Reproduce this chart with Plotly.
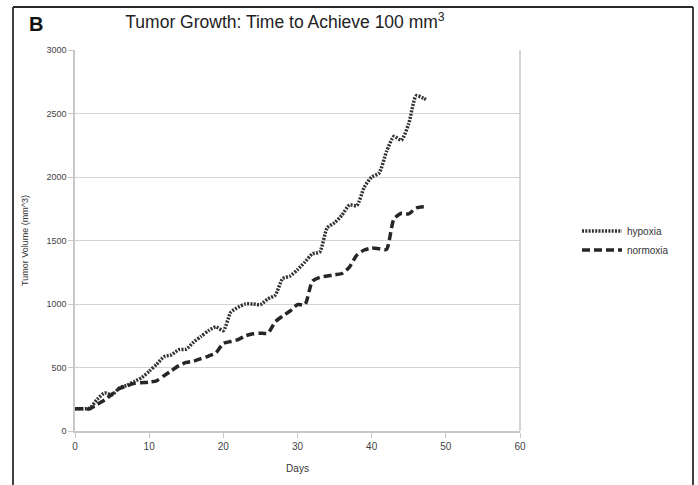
import plotly.graph_objects as go

days = [0, 1, 2, 3, 4, 5, 6, 7, 8, 9, 10, 11, 12, 13, 14, 15, 16, 17, 18, 19, 20,
        21, 22, 23, 24, 25, 26, 27, 28, 29, 30, 31, 32, 33, 34, 35, 36, 37, 38, 39,
        40, 41, 42, 43, 44, 45, 46, 47, 47.5]
hypoxia = [175, 175, 180, 250, 300, 285, 340, 360, 390, 420, 470, 525, 585, 600, 640,
           645, 700, 745, 790, 820, 790, 935, 975, 1000, 1000, 995, 1040, 1070, 1200,
           1220, 1270, 1330, 1395, 1410, 1600, 1640, 1700, 1780, 1775, 1920, 2000, 2030,
           2200, 2320, 2290, 2420, 2640, 2620, 2605]
normoxia = [175, 175, 175, 210, 245, 290, 335, 355, 375, 380, 385, 395, 435, 475, 515,
            540, 550, 570, 590, 615, 690, 705, 720, 750, 765, 770, 770, 860, 905, 945,
            995, 995, 1180, 1210, 1220, 1230, 1240, 1290, 1385, 1425, 1440, 1435, 1430,
            1670, 1715, 1710, 1755, 1765, 1766]
x_ticks = [0, 10, 20, 30, 40, 50, 60]
y_ticks = [0, 500, 1000, 1500, 2000, 2500, 3000]

FONT = "Liberation Sans, Arial, sans-serif"

fig = go.Figure()
fig.add_trace(go.Scatter(x=days, y=hypoxia, name="hypoxia", mode="lines",
                         line=dict(color="#333333", width=3.5, dash="2px,1.3px",
                                   shape="spline", smoothing=0.6)))
fig.add_trace(go.Scatter(x=days, y=normoxia, name="normoxia", mode="lines",
                         line=dict(color="#262626", width=3.5, dash="8px,4px",
                                   shape="spline", smoothing=0.6)))

W, H = 698, 485
L, R, T, B = 75, 520, 50, 440


def px(x):
    return (x - L) / (R - L)


def py(y):
    return (B - y) / (B - T)


fig.update_layout(
    width=W, height=H,
    margin=dict(l=L, r=W - R, t=T, b=H - B),
    paper_bgcolor="white", plot_bgcolor="white",
    font=dict(family=FONT, color="#444"),
    title=dict(text="Tumor Growth: Time to Achieve 100 mm<sup>3</sup>",
               xref="paper", x=px(285), xanchor="center",
               yref="container", y=1 - 22 / H, yanchor="middle",
               font=dict(size=17.5, color="#222", family=FONT)),
    xaxis=dict(range=[0, 60], tickvals=x_ticks, showgrid=False, zeroline=False,
               showline=True, linecolor="#c8c8c8", linewidth=1.5,
               ticks="outside", ticklen=5, tickcolor="#c8c8c8",
               tickfont=dict(size=10, color="#444"),
               title=dict(text="Days", font=dict(size=10, color="#333"), standoff=14)),
    yaxis=dict(range=[0, 3000], tickvals=y_ticks, showgrid=True, gridcolor="#d4d4d4",
               gridwidth=1.3, zeroline=False,
               showline=True, linecolor="#c8c8c8", linewidth=1.5,
               ticks="outside", ticklen=5, tickcolor="#c8c8c8",
               tickfont=dict(size=9, color="#444"),
               title=dict(text="Tumor Volume (mm^3)", font=dict(size=9, color="#333"),
                          standoff=16)),
    legend=dict(x=px(577), y=py(245), xanchor="left", yanchor="middle",
                font=dict(size=10, color="#333"), bgcolor="rgba(0,0,0,0)",
                tracegroupgap=0, itemwidth=40),
    showlegend=True,
)

# right border of the plot area
fig.add_shape(type="line", xref="paper", yref="paper", x0=1, x1=1, y0=0, y1=1,
              line=dict(color="#c8c8c8", width=1.5))

# outer frame (left, top, right)
fl, fr, ft, fb = px(13), px(693), py(6), py(500)
for (x0, y0, x1, y1) in [(fl, fb, fl, ft), (fl, ft, fr, ft), (fr, ft, fr, fb)]:
    fig.add_shape(type="line", xref="paper", yref="paper", x0=x0, y0=y0, x1=x1, y1=y1,
                  line=dict(color="#2a2a2a", width=1.8), layer="above")

fig.add_annotation(text="<b>B</b>", xref="paper", yref="paper", x=px(27), y=py(23),
                   xanchor="left", yanchor="middle", showarrow=False,
                   font=dict(size=20, color="#111", family=FONT))

fig.write_html("out.html")
